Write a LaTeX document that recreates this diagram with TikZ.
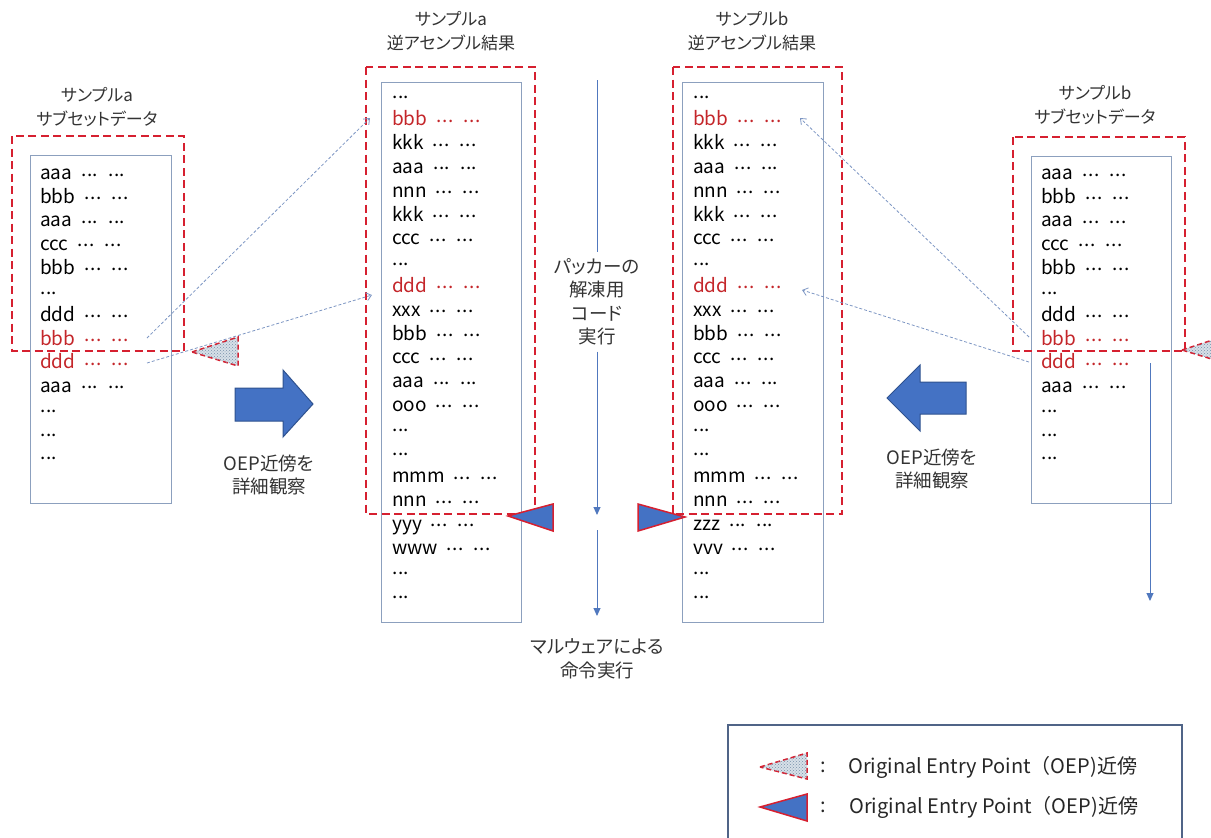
\documentclass[tikz,border=0pt]{standalone}
\usepackage{fontspec}
\setmainfont{Noto Sans CJK JP}
\newfontfamily\jpp[RawFeature=+palt]{Noto Sans CJK JP}
\usetikzlibrary{arrows.meta,patterns}
\definecolor{oepred}{RGB}{214,32,48}
\definecolor{txtred}{RGB}{196,38,42}
\definecolor{boxblue}{RGB}{140,160,190}
\definecolor{arrblue}{RGB}{68,114,196}
\definecolor{arrline}{RGB}{47,82,143}
\definecolor{linkblue}{RGB}{125,150,195}
\definecolor{flowblue}{RGB}{80,120,190}
\definecolor{legline}{RGB}{80,100,135}
\definecolor{dotcol}{RGB}{120,145,170}
\definecolor{dotbg}{RGB}{215,224,232}
\newcommand{\R}{\color{txtred}}
\newcommand{\rdot}{\raisebox{3.5pt}{.}}
\newcommand{\dd}{\makebox[17pt][s]{\rdot\hfil\rdot\hfil\rdot}}
\newcommand{\rowx}[1]{#1\hspace{9pt}\dd\hspace{10pt}\dd}
\begin{document}
\begin{tikzpicture}[x=1pt,y=-1pt,
  listbox/.style={draw=boxblue,line width=1pt},
  redbox/.style={draw=oepred,line width=1.8pt,dash pattern=on 8pt off 4.5pt},
  item/.style={anchor=west,inner sep=0pt,font=\fontsize{19}{22}\selectfont,text height=13pt,text depth=4pt},
  title/.style={align=center,inner sep=0pt,font=\jpp\fontsize{17}{24}\selectfont,text=black!80},
  jtxt/.style={align=center,inner sep=6pt,font=\jpp\fontsize{18.5}{23.5}\selectfont,text=black!80},
  link/.style={draw=linkblue,line width=0.8pt,dash pattern=on 3pt off 2pt,-{Straight Barb[length=5pt,width=8pt]}},
  flowline/.style={draw=flowblue,line width=1pt},
  flowarrow/.style={flowline,-{Triangle[length=8pt,width=7pt]}},
  bigarrow/.style={fill=arrblue,draw=arrline,line width=1pt},
  oeptri/.style={fill=arrblue,draw=oepred,line width=1.5pt},
  dottri/.style={fill=dotbg,postaction={pattern=crosshatch dots,pattern color=dotcol},draw=oepred,line width=1.5pt,dash pattern=on 5pt off 3pt},
  legtxt/.style={anchor=west,inner sep=0pt,font=\fontsize{20}{24}\selectfont,text=black!85}
]
\useasboundingbox (0,0) rectangle (1211,838);
\clip (0,0) rectangle (1211,838);

% titles
\node[title] (t-la) at (97,107) {サンプルa\\サブセットデータ};
\node[title] (t-ma) at (451,31) {サンプルa\\逆アセンブル結果};
\node[title] (t-mb) at (752,31) {サンプルb\\逆アセンブル結果};
\node[title] (t-rb) at (1095,105) {サンプルb\\サブセットデータ};

% list boxes
\draw[listbox] (30,155) rectangle (171,503);
\draw[listbox] (381,82) rectangle (521,622);
\draw[listbox] (682,82) rectangle (823,622);
\draw[listbox] (1031,156) rectangle (1171,503);

% lists
\foreach \t [count=\i] in {\rowx{aaa},\rowx{bbb},\rowx{aaa},\rowx{ccc},\rowx{bbb},\dd,\rowx{ddd},{\R\rowx{bbb}},{\R\rowx{ddd}},\rowx{aaa},\dd,\dd,\dd}
  \node[item,name=la-\i] at (40,{175+23.65*(\i-1)}) {\t};
\foreach \t [count=\i] in {\rowx{aaa},\rowx{bbb},\rowx{aaa},\rowx{ccc},\rowx{bbb},\dd,\rowx{ddd},{\R\rowx{bbb}},{\R\rowx{ddd}},\rowx{aaa},\dd,\dd,\dd}
  \node[item,name=rb-\i] at (1041,{175+23.65*(\i-1)}) {\t};
\foreach \t [count=\i] in {\dd,{\R\rowx{bbb}},\rowx{kkk},\rowx{aaa},\rowx{nnn},\rowx{kkk},\rowx{ccc},\dd,{\R\rowx{ddd}},\rowx{xxx},\rowx{bbb},\rowx{ccc},\rowx{aaa},\rowx{ooo},\dd,\dd,\rowx{mmm},\rowx{nnn},\rowx{yyy},\rowx{www},\dd,\dd}
  \node[item,name=ma-\i] at (392,{97.5+23.8*(\i-1)}) {\t};
\foreach \t [count=\i] in {\dd,{\R\rowx{bbb}},\rowx{kkk},\rowx{aaa},\rowx{nnn},\rowx{kkk},\rowx{ccc},\dd,{\R\rowx{ddd}},\rowx{xxx},\rowx{bbb},\rowx{ccc},\rowx{aaa},\rowx{ooo},\dd,\dd,\rowx{mmm},\rowx{nnn},\rowx{zzz},\rowx{vvv},\dd,\dd}
  \node[item,name=mb-\i] at (693,{97.5+23.8*(\i-1)}) {\t};

% red dashed OEP regions
\draw[redbox] (12,136) rectangle (184,351);
\draw[redbox] (366,67) rectangle (535,514);
\draw[redbox] (673,67) rectangle (842,514);
\draw[redbox] (1013,137) rectangle (1185,351);

% dashed links
\coordinate (ca1) at (147,338); \coordinate (ta1) at (370,118);
\coordinate (ca2) at (147,363); \coordinate (ta2) at (372,295);
\coordinate (cb1) at (1029,337); \coordinate (tb1) at (800,118);
\coordinate (cb2) at (1029,362); \coordinate (tb2) at (802,290);
\draw[link] (ca1) -- (ta1);
\draw[link] (ca2) -- (ta2);
\draw[link] (cb1) -- (tb1);
\draw[link] (cb2) -- (tb2);

% dotted OEP triangles
\draw[dottri] (192,352) -- (238,337) -- (238,366) -- cycle;
\draw[dottri] (1182,350) -- (1228,335) -- (1228,364) -- cycle;

% solid OEP triangles
\draw[oeptri] (508,516) -- (553,504) -- (553,531) -- cycle;
\draw[oeptri] (685,517) -- (638,504) -- (638,531) -- cycle;

% big arrows
\draw[bigarrow] (235,388) -- (283,388) -- (283,370) -- (313,404) -- (283,437) -- (283,421) -- (235,421) -- cycle;
\draw[bigarrow] (966,382) -- (920,382) -- (920,365) -- (887,398) -- (920,431) -- (920,414) -- (966,414) -- cycle;
\node[jtxt] (cap-l) at (269,475) {OEP近傍を\\詳細観察};
\node[jtxt] (cap-r) at (932,469) {OEP近傍を\\詳細観察};

% execution flow
\node[jtxt] (unpack) at (597,302) {パッカーの\\解凍用\\コード\\実行};
\coordinate (ftop) at (597,80);
\coordinate (fmid) at (597,515);
\coordinate (fmid2) at (597,530);
\coordinate (fend) at (597,616);
\draw[flowline] (ftop) -- (unpack);
\draw[flowarrow] (unpack) -- (fmid);
\draw[flowarrow] (fmid2) -- (fend);
\node[jtxt] (mal) at (597,659) {マルウェアによる\\命令実行};

\coordinate (rtop) at (1150,363);
\coordinate (rend) at (1150,601);
\draw[flowarrow] (rtop) -- (rend);

% legend
\draw[draw=legline,line width=1.5pt] (728,725) rectangle (1182,860);
\draw[dottri] (760,767) -- (807,753) -- (807,779) -- cycle;
\draw[oeptri] (760,807) -- (807,794) -- (807,821) -- cycle;
\node[legtxt] (lc1) at (820,767) {:};
\node[legtxt] (lt1) at (848,767) {Original Entry Point（OEP)近傍};
\node[legtxt] (lc2) at (820,807) {:};
\node[legtxt] (lt2) at (849,807) {Original Entry Point（OEP)近傍};
\end{tikzpicture}
\end{document}
